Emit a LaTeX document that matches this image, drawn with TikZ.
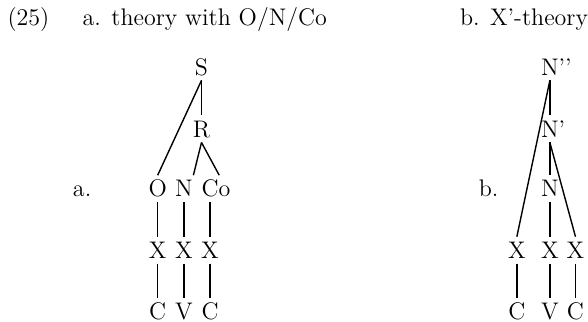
\documentclass[tikz,border=0pt]{standalone}
\begin{document}
\begin{tikzpicture}[font=\fontsize{12}{14}\selectfont, line width=0.7pt]
    \tikzstyle{cat}=[inner xsep=0pt, inner ysep=2.3pt, text height=8.2pt, text depth=0pt, anchor=base]
    \tikzstyle{tag}=[inner sep=0pt, anchor=base west]
    \useasboundingbox (0,0) rectangle (10.33,-5.64);

    \node[tag](num) at (0.12,-0.44){(25)};
    \node[tag](titlea) at (1.44,-0.44){a. theory with O/N/Co};
    \node[tag](titleb) at (8.07,-0.44){b. X’-theory};

    % a. onset / nucleus / coda
    \node[tag](laba) at (1.27,-3.46){a.};
    \node[cat](s) at (3.54,-1.32){S};
    \node[cat](r) at (3.54,-2.41){R};
    \node[cat](o) at (2.77,-3.46){O};
    \node[cat](n) at (3.23,-3.46){N};
    \node[cat](co) at (3.69,-3.46){C\rlap{o}};
    \node[cat](xa1) at (2.77,-4.54){X};
    \node[cat](xa2) at (3.23,-4.54){X};
    \node[cat](xa3) at (3.69,-4.54){X};
    \node[cat](ca1) at (2.77,-5.61){C};
    \node[cat](va) at (3.23,-5.61){V};
    \node[cat](ca2) at (3.69,-5.61){C};

    \draw (s.south) -- (o.north);
    \draw (s.south) -- (r.north);
    \draw (r.south) -- (n.north east);
    \draw (r.south) -- (co.north east);
    \draw (o) -- (xa1) -- (ca1);
    \draw (n) -- (xa2) -- (va);
    \draw (co) -- (xa3) -- (ca2);

    % b. X'-theory
    \node[tag](labb) at (8.40,-3.46){b.};
    \node[cat](nbar2) at (9.66,-1.32){N\rlap{’’}};
    \node[cat](nbar1) at (9.66,-2.41){N\rlap{’}};
    \node[cat](nhead) at (9.66,-3.46){N};
    \node[cat](xb1) at (9.08,-4.54){X};
    \node[cat](xb2) at (9.66,-4.54){X};
    \node[cat](xb3) at (10.11,-4.54){X};
    \node[cat](cb1) at (9.08,-5.61){C};
    \node[cat](vb) at (9.66,-5.61){V};
    \node[cat](cb2) at (10.11,-5.61){C};

    \draw (nbar2.south) -- (xb1.north);
    \draw (nbar2) -- (nbar1) -- (nhead) -- (xb2) -- (vb);
    \draw (nbar1.south) -- (xb3.north);
    \draw (xb1) -- (cb1);
    \draw (xb3) -- (cb2);
\end{tikzpicture}
\end{document}
